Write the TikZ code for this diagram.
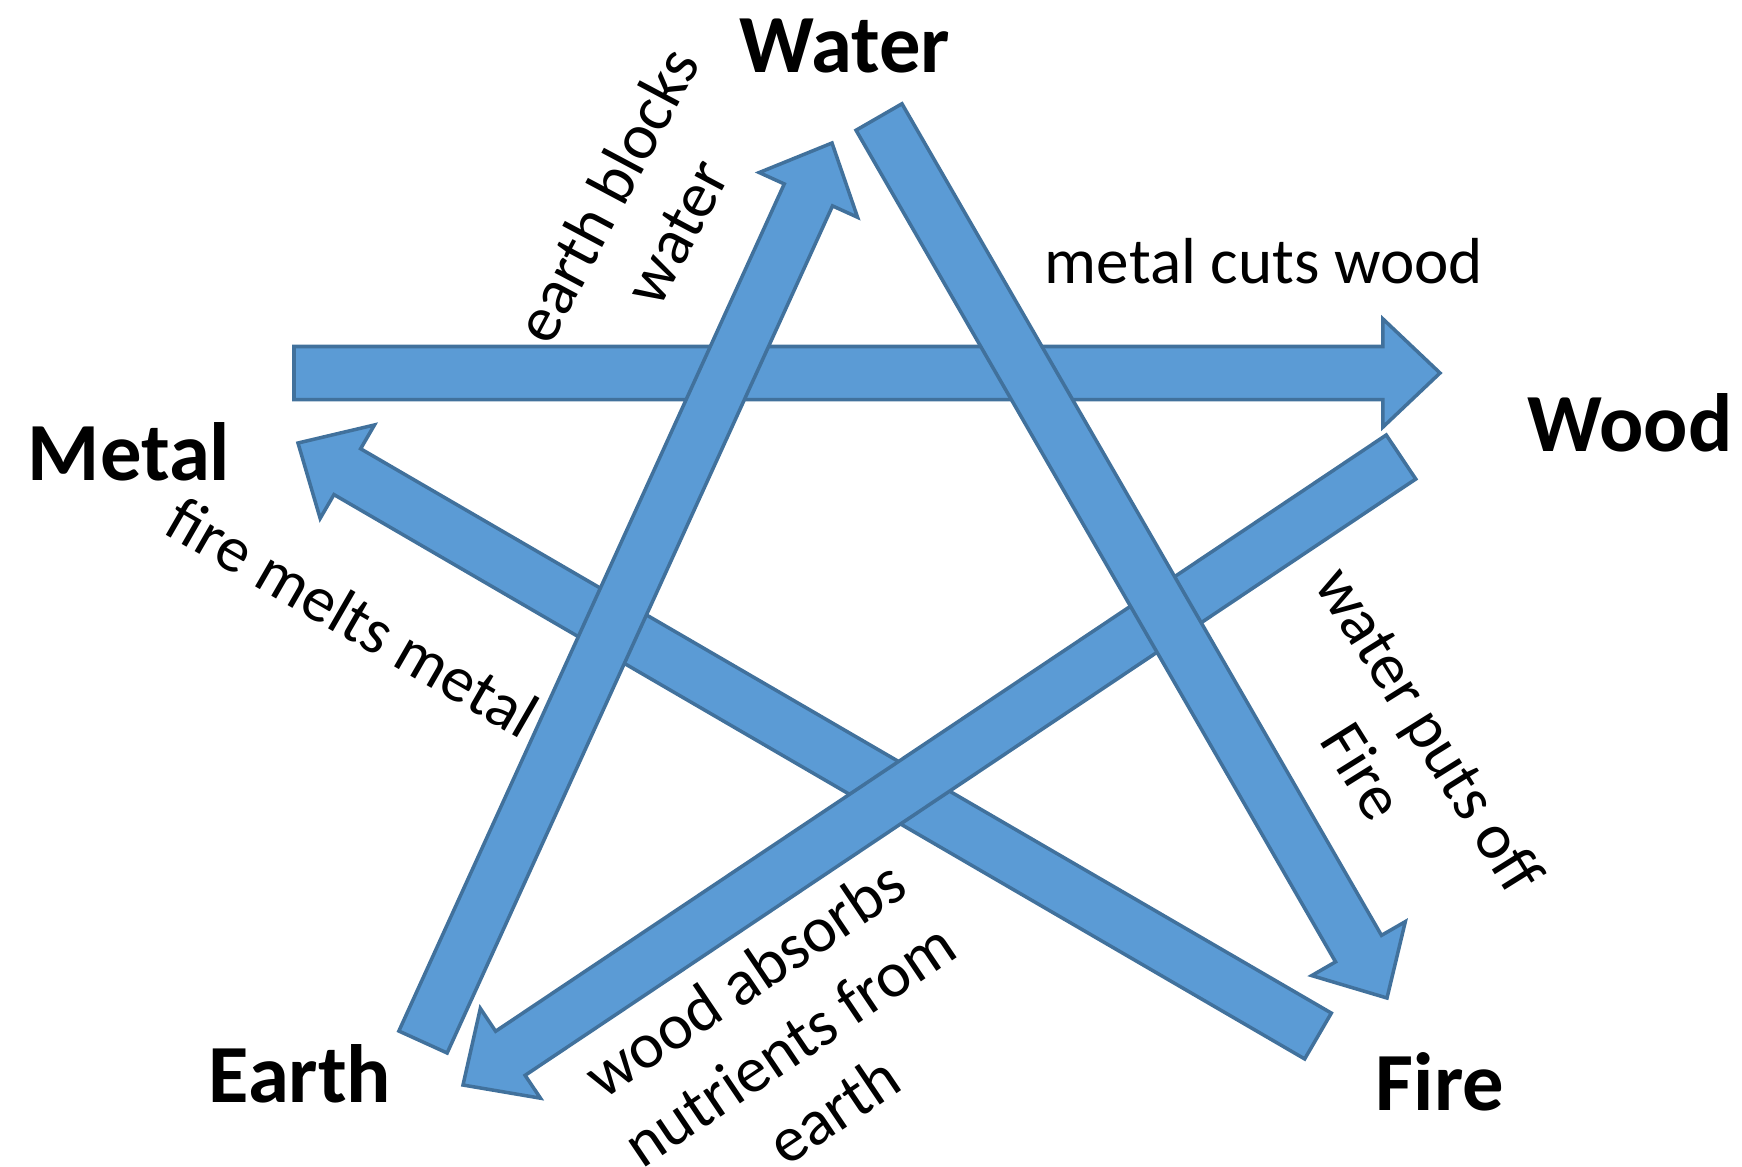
\documentclass[tikz,border=0pt]{standalone}
\usepackage{fontspec}
\setmainfont{Carlito}
\usetikzlibrary{calc}
\definecolor{arrowfill}{HTML}{5B9BD5}
\definecolor{arrowline}{HTML}{41719C}
\tikzset{
  elem/.style={font=\fontsize{23.5}{28}\selectfont\bfseries, inner sep=0pt},
  rel/.style={font=\fontsize{18.5}{22.5}\selectfont, align=center, inner sep=0pt},
  blockarrow/.style={fill=arrowfill, draw=arrowline, line width=1pt, line join=miter}
}
\newcommand\blockarr[2]{%
  \coordinate (ba-c) at ($(#2)!0.57cm!(#1)$);
  \draw[blockarrow]
    ($(#1)!0.265cm!90:(#2)$) --
    ($(ba-c)!0.265cm!90:(#2)$) --
    ($(ba-c)!0.54cm!90:(#2)$) --
    (#2) --
    ($(ba-c)!0.54cm!-90:(#2)$) --
    ($(ba-c)!0.265cm!-90:(#2)$) --
    ($(#1)!0.265cm!-90:(#2)$) -- cycle;
}
\begin{document}
\begin{tikzpicture}[x=0.01cm,y=-0.01cm]
\useasboundingbox (0,0) rectangle (1742,1166);

% element labels
\node[elem] (water) at (845,46) {Water};
\node[elem] (wood)  at (1630,423) {Wood};
\node[elem] (metal) at (129,452) {Metal};
\node[elem] (earth) at (300,1074) {Earth};
\node[elem] (fire)  at (1440,1082) {Fire};

% arrow end points
\coordinate (mw-t) at (294,373);  \coordinate (mw-h) at (1440,373);
\coordinate (fm-t) at (1318,1036); \coordinate (fm-h) at (298,443);
\coordinate (we-t) at (1401,457); \coordinate (we-h) at (463,1085);
\coordinate (ew-t) at (423,1042); \coordinate (ew-h) at (832,143);
\coordinate (wf-t) at (879,117);  \coordinate (wf-h) at (1387,998);

\blockarr{mw-t}{mw-h}
\blockarr{fm-t}{fm-h}
\blockarr{we-t}{we-h}
\blockarr{ew-t}{ew-h}
\blockarr{wf-t}{wf-h}

% relation labels
\node[rel] (l-mw) at (1264,261) {metal cuts wood};
\node[rel, rotate=62] (l-ew) at (641,213) {earth blocks\\water};
\node[rel, rotate=-30] (l-fm) at (353,617) {fire melts metal};
\node[rel, rotate=-58] (l-wf) at (1397,750) {water puts off\\Fire};
\node[rel, rotate=34] (l-we) at (789,1044) {wood absorbs\\nutrients from\\earth};
\end{tikzpicture}
\end{document}
